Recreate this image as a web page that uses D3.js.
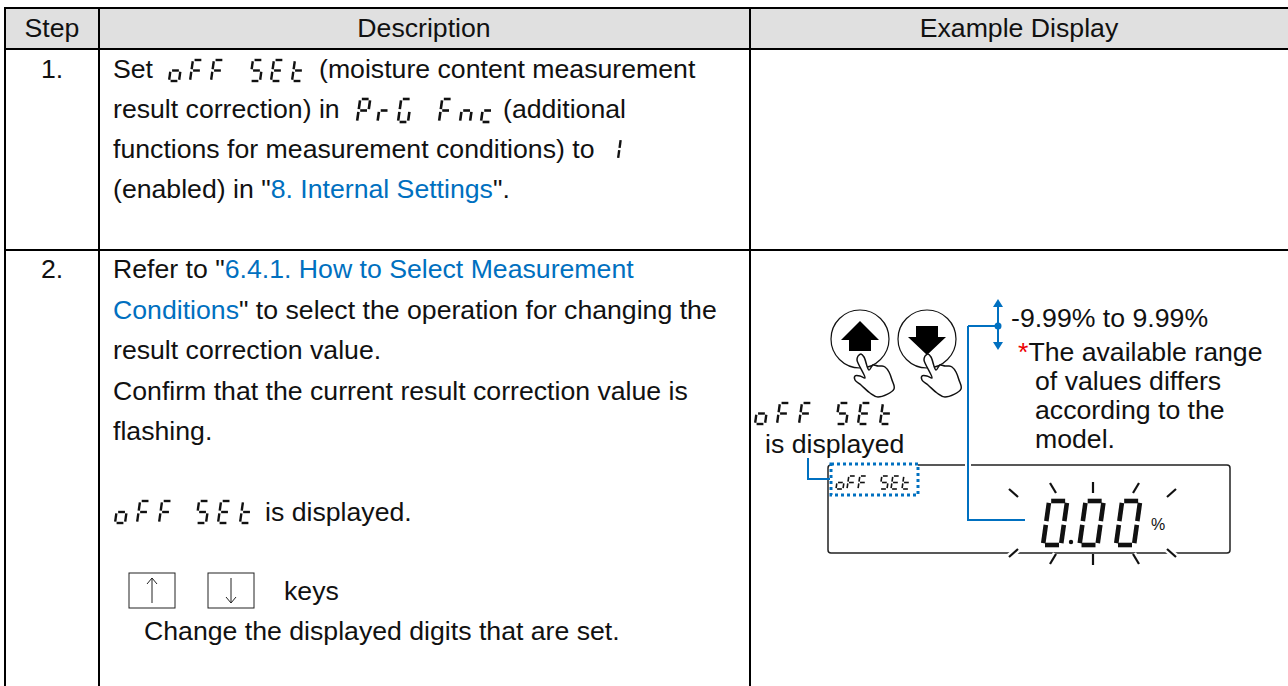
<!DOCTYPE html>
<html>
<head>
<meta charset="utf-8">
<script src="https://cdn.jsdelivr.net/npm/d3@7"></script>
<style>
  body { margin: 0; background: #fff; }
  text { font-family: "Liberation Sans", Arial, sans-serif; font-size: 26.67px; fill: #111; }
</style>
</head>
<body>
<div class="chart"></div>
<script>
const headers = ["Step", "Description", "Example Display"];
const steps = ["1.", "2."];
const link = "#0070c0";

const step1Lines = [
  [["Set"], ["(moisture content measurement"]],
  [["result correction) in"], ["(additional"]],
  [["functions for measurement conditions) to"]],
  [["(enabled) in \""], ["8. Internal Settings", link], ["\"."]]
];
const step2Lines = [
  [["Refer to \""], ["6.4.1. How to Select Measurement", link]],
  [["Conditions", link], ["\" to select the operation for changing the"]],
  [["result correction value."]],
  [["Confirm that the current result correction value is"]],
  [["flashing."]]
];
const rangeLines = ["of values differs", "according to the", "model."];

const columnEdges = [5, 99, 750, 1288];
const rowEdges = [8, 49, 250, 686];

const width = 1288;
const height = 686;

const svg = d3
  .select(".chart")
  .append("svg")
  .attr("width", width)
  .attr("height", height)
  .style("display", "block");

// table
svg
  .append("rect")
  .attr("x", columnEdges[0])
  .attr("y", rowEdges[0])
  .attr("width", columnEdges[3] - columnEdges[0])
  .attr("height", rowEdges[1] - rowEdges[0])
  .attr("fill", "#e0e0e0");

svg
  .selectAll(".vline")
  .data(columnEdges.slice(0, 3))
  .enter()
  .append("line")
  .attr("x1", d => d)
  .attr("x2", d => d)
  .attr("y1", rowEdges[0] - 1)
  .attr("y2", height)
  .attr("stroke", "#000")
  .attr("stroke-width", 2);

svg
  .selectAll(".hline")
  .data(rowEdges.slice(0, 3))
  .enter()
  .append("line")
  .attr("x1", columnEdges[0] - 1)
  .attr("x2", columnEdges[3])
  .attr("y1", d => d)
  .attr("y2", d => d)
  .attr("stroke", "#000")
  .attr("stroke-width", 2);

const headCentres = [52, 424, 1019];
svg
  .selectAll(".head")
  .data(headers)
  .enter()
  .append("text")
  .attr("x", (d, i) => headCentres[i])
  .attr("y", 37)
  .attr("text-anchor", "middle")
  .text(d => d);

svg
  .selectAll(".step")
  .data(steps)
  .enter()
  .append("text")
  .attr("x", 52)
  .attr("y", (d, i) => [78, 278][i])
  .attr("text-anchor", "middle")
  .text(d => d);

function runs(x, y, parts) {
  const t = svg.append("text").attr("x", x).attr("y", y);
  parts.forEach(p => {
    t.append("tspan")
      .text(p[0])
      .style("fill", p[1] || "#111");
  });
  return t;
}

// first two lines have a display word in the middle, so they are placed in pieces
runs(113, 78, [step1Lines[0][0]]);
runs(319, 78, [step1Lines[0][1]]);
runs(113, 118, [step1Lines[1][0]]);
runs(503, 118, [step1Lines[1][1]]);
runs(113, 158, step1Lines[2]);
runs(113, 198, step1Lines[3]);

step2Lines.forEach((line, i) => runs(113, 278 + i * 40.5, line));
runs(265, 521, [["is displayed."]]);
runs(284, 600, [["keys"]]);
runs(144, 640, [["Change the displayed digits that are set."]]);

// seven segment lettering
const segments = {
  a: [[0, 0], [1, 0]],
  b: [[1, 0], [1, 0.5]],
  c: [[1, 0.5], [1, 1]],
  d: [[0, 1], [1, 1]],
  e: [[0, 0.5], [0, 1]],
  f: [[0, 0], [0, 0.5]],
  g: [[0, 0.5], [1, 0.5]]
};
const glyphs = {
  o: "cdeg", F: "aefg", S: "acdfg", E: "adefg", t: "defg",
  P: "abefg", r: "eg", G: "acdef", n: "ceg", c: "deg", 1: "bc", 0: "abcdef"
};

function sevenSeg(word, x, y, w, h, pitch, gap, sw, inset = 0.1) {
  const g = svg.append("g");
  const sx = d3.scaleLinear().domain([0, 1]).range([0, w]);
  const sy = d3.scaleLinear().domain([0, 1]).range([0, h]);
  const skew = 0.14 * h;
  let cx = x;
  word.split("").forEach(ch => {
    if (ch === " ") {
      cx += gap;
      return;
    }
    glyphs[ch].split("").forEach(name => {
      const s = segments[name];
      const hor = name === "a" || name === "d" || name === "g";
      const cut = hor ? inset * 1.6 : inset * 0.6;
      const p = s.map((q, i) => {
        const f = i === 0 ? cut : -cut;
        const qx = hor ? q[0] + f : q[0];
        const qy = hor ? q[1] : q[1] + f;
        return [cx + sx(qx) + skew * (1 - qy), y + sy(qy)];
      });
      g.append("line")
        .attr("x1", p[0][0])
        .attr("y1", p[0][1])
        .attr("x2", p[1][0])
        .attr("y2", p[1][1])
        .attr("stroke", "#111")
        .attr("stroke-width", sw);
    });
    cx += pitch;
  });
  return g;
}

sevenSeg("oFF SEt", 169, 60, 10, 21, 21, 18, 2.4);
sevenSeg("PrG", 357, 99, 10, 23, 20.5, 0, 2.6);
sevenSeg("Fnc", 439, 99, 10, 23, 21, 0, 2.6);
sevenSeg("1", 608, 139, 10, 20, 21, 0, 2.4);
sevenSeg("oFF SEt", 115, 501, 10, 22, 22, 15, 2.4);
sevenSeg("oFF SEt", 755, 403, 10, 21, 22, 15, 2.4);

// key boxes in the step text
const keyBoxes = [
  { x: 129, dir: -1 },
  { x: 208, dir: 1 }
];
keyBoxes.forEach(k => {
  svg
    .append("rect")
    .attr("x", k.x)
    .attr("y", 573)
    .attr("width", 46)
    .attr("height", 35)
    .attr("fill", "none")
    .attr("stroke", "#222")
    .attr("stroke-width", 1);
  const c = k.x + 23;
  const tip = k.dir < 0 ? 578 : 603;
  const end = k.dir < 0 ? 603 : 578;
  svg
    .append("path")
    .attr("d", `M${c},${end}L${c},${tip}M${c - 5},${tip - k.dir * 6}L${c},${tip}L${c + 5},${tip - k.dir * 6}`)
    .attr("fill", "none")
    .attr("stroke", "#222")
    .attr("stroke-width", 1);
});

// example display
const lcd = { x0: 828, x1: 1230, y0: 465, y1: 553 };
svg
  .append("rect")
  .attr("x", lcd.x0)
  .attr("y", lcd.y0)
  .attr("width", lcd.x1 - lcd.x0)
  .attr("height", lcd.y1 - lcd.y0)
  .attr("rx", 3)
  .attr("fill", "#fff")
  .attr("stroke", "#222")
  .attr("stroke-width", 1.5);

// buttons
const buttons = [
  { cx: 860, up: true },
  { cx: 927, up: false }
];
buttons.forEach(b => {
  svg
    .append("circle")
    .attr("cx", b.cx)
    .attr("cy", 339)
    .attr("r", 29)
    .attr("fill", "#fff")
    .attr("stroke", "#111")
    .attr("stroke-width", 1.2);
  const c = b.cx;
  const arrow = b.up
    ? [[0, 321], [19, 340], [11, 340], [11, 351], [-11, 351], [-11, 340], [-19, 340]]
    : [[0, 355], [19, 337], [11, 337], [11, 326], [-11, 326], [-11, 337], [-19, 337]];
  svg
    .append("polygon")
    .attr("points", arrow.map(p => `${c + p[0]},${p[1]}`).join(" "))
    .attr("fill", "#000");
  // pointing hand, relative to the button centre
  const hand = d3.line().curve(d3.curveCatmullRom.alpha(0.5))([
    [-2, 356], [1, 354], [4, 357], [9, 370], [13, 365], [18, 366],
    [22, 366], [25, 367], [29, 372], [32, 380], [34, 389], [18, 397],
    [10, 393], [1, 385], [-5, 380], [-5, 376], [0, 376], [5, 378], [-3, 360], [-2, 356]
  ]);
  svg
    .append("path")
    .attr("d", hand)
    .attr("transform", `translate(${c},0)`)
    .attr("fill", "#fff")
    .attr("stroke", "#111")
    .attr("stroke-width", 1.5);
});

svg
  .append("text")
  .attr("x", 1011)
  .attr("y", 327)
  .text("-9.99% to 9.99%");

const star = svg.append("text").attr("x", 1018).attr("y", 361);
star.append("tspan").text("*").style("fill", "#e00");
star.append("tspan").text("The available range");

rangeLines.forEach((d, i) => {
  svg
    .append("text")
    .attr("x", 1035)
    .attr("y", 390 + i * 29)
    .text(d);
});

svg
  .append("text")
  .attr("x", 765)
  .attr("y", 453)
  .text("is displayed");

// blue leaders
const blue = "#0070c0";
function leader(points, sw, halo) {
  const d = d3.line()(points);
  if (halo) {
    svg
      .append("path")
      .attr("d", d)
      .attr("fill", "none")
      .attr("stroke", "#fff")
      .attr("stroke-width", sw + 4);
  }
  svg
    .append("path")
    .attr("d", d)
    .attr("fill", "none")
    .attr("stroke", blue)
    .attr("stroke-width", sw);
}
leader([[808, 458], [808, 479], [830, 479]], 2, false);
leader([[968, 326], [968, 520], [1025, 520]], 2, true);
leader([[968, 326], [998, 326]], 2, false);
leader([[998, 306], [998, 344]], 2, false);
svg.append("circle").attr("cx", 998).attr("cy", 326).attr("r", 3.5).attr("fill", blue);
svg.append("polygon").attr("points", "998,299 993,307 1003,307").attr("fill", blue);
svg.append("polygon").attr("points", "998,350 993,342 1003,342").attr("fill", blue);

// dotted frame over the small display word
svg
  .append("rect")
  .attr("x", 831)
  .attr("y", 464)
  .attr("width", 87)
  .attr("height", 31)
  .attr("fill", "#fff")
  .attr("stroke", blue)
  .attr("stroke-width", 3)
  .attr("stroke-dasharray", "3 3");
sevenSeg("oFF SEt", 836, 476, 7, 13, 11, 11, 1.6);

// flashing ticks
const ticks = [
  [1009, 489, 1018, 497], [1050, 483, 1056, 493], [1093, 482, 1093, 493], [1139, 483, 1133, 493], [1176, 489, 1167, 497],
  [1018, 549, 1009, 557], [1056, 554, 1050, 564], [1093, 554, 1093, 565], [1133, 554, 1139, 564], [1167, 549, 1176, 557]
];
svg
  .selectAll(".halo")
  .data(ticks)
  .enter()
  .append("line")
  .attr("x1", d => d[0])
  .attr("y1", d => d[1])
  .attr("x2", d => d[2])
  .attr("y2", d => d[3])
  .attr("stroke", "#fff")
  .attr("stroke-width", 7);
svg
  .selectAll(".tick")
  .data(ticks)
  .enter()
  .append("line")
  .attr("x1", d => d[0])
  .attr("y1", d => d[1])
  .attr("x2", d => d[2])
  .attr("y2", d => d[3])
  .attr("stroke", "#111")
  .attr("stroke-width", 2.2);

// big reading
sevenSeg("000", 1043, 501, 18, 44, 36.5, 0, 4.6, 0.07);
svg.append("circle").attr("cx", 1071).attr("cy", 542).attr("r", 2.2).attr("fill", "#111");
svg
  .append("text")
  .attr("x", 1151)
  .attr("y", 530)
  .style("font-size", "16px")
  .text("%");
</script>
</body>
</html>
